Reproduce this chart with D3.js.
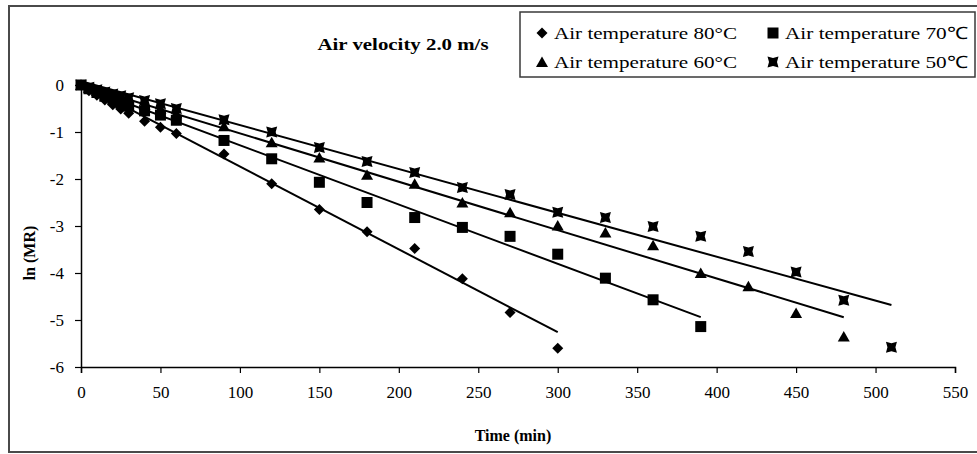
<!DOCTYPE html>
<html>
<head>
<meta charset="utf-8">
<script src="https://cdn.jsdelivr.net/npm/d3@7/dist/d3.min.js"></script>
<style>
  html, body { margin: 0; padding: 0; background: #fff; }
  svg { display: block; }
  svg text { font-family: "Liberation Serif", "Times New Roman", serif !important; fill: #000; }
</style>
</head>
<body>
<svg id="chart" width="977" height="454"></svg>
<script>
// ---- data ----
const times = [0, 5, 10, 15, 20, 25, 30, 40, 50, 60, 90, 120, 150, 180, 210, 240, 270, 300, 330, 360, 390, 420, 450, 480, 510];
const seriesNames = ["Air temperature 80°C", "Air temperature 70℃", "Air temperature 60°C", "Air temperature 50℃"];
const values80 = [0, -0.12, -0.22, -0.32, -0.42, -0.51, -0.6, -0.77, -0.9, -1.03, -1.47, -2.1, -2.65, -3.12, -3.48, -4.12, -4.84, -5.6];
const values70 = [0, -0.08, -0.16, -0.24, -0.31, -0.38, -0.45, -0.55, -0.64, -0.75, -1.18, -1.57, -2.07, -2.5, -2.82, -3.03, -3.22, -3.6, -4.11, -4.57, -5.14];
const values60 = [0, -0.06, -0.12, -0.18, -0.24, -0.3, -0.35, -0.42, -0.5, -0.6, -0.88, -1.22, -1.54, -1.91, -2.1, -2.5, -2.71, -2.99, -3.14, -3.41, -4.0, -4.28, -4.85, -5.35];
const values50 = [0, -0.05, -0.1, -0.15, -0.19, -0.23, -0.27, -0.33, -0.4, -0.5, -0.74, -1.0, -1.33, -1.63, -1.86, -2.18, -2.33, -2.71, -2.82, -3.01, -3.22, -3.54, -3.98, -4.58, -5.58];
// fitted straight lines: value at t=0 and at end time
const fitEndTime = [300, 390, 480, 510];
const fitStartValue = [0.03, -0.02, 0, 0.08];
const fitEndValue = [-5.26, -4.94, -4.94, -4.68];
const xTicks = [0, 50, 100, 150, 200, 250, 300, 350, 400, 450, 500, 550];
const yTicks = [0, -1, -2, -3, -4, -5, -6];
const titleText = "Air velocity 2.0 m/s";
const xLabel = "Time (min)";
const yLabel = "ln (MR)";

const allValues = [values80, values70, values60, values50];
const serif = '"Liberation Serif", "Times New Roman", serif';

// ---- drawing ----
const svg = d3.select("#chart");
const x = d3.scaleLinear().domain([0, 550]).range([81, 955]);
const y = d3.scaleLinear().domain([-6, 0]).range([367, 85]);

// outer frame
svg.append("rect").attr("x", 9).attr("y", 6).attr("width", 975).attr("height", 446)
  .attr("fill", "none").attr("stroke", "#4a4a4a").attr("stroke-width", 2);

// axes
const xAxis = svg.append("g").attr("transform", `translate(0,${y(-6)})`)
  .call(d3.axisBottom(x).tickValues(xTicks).tickSize(6).tickSizeOuter(6).tickPadding(13).tickFormat(d3.format("d")));
const yAxis = svg.append("g").attr("transform", `translate(${x(0)},0)`)
  .call(d3.axisLeft(y).tickValues(yTicks).tickSize(6).tickSizeOuter(0).tickPadding(11).tickFormat(d => d === 0 ? "0" : "-" + Math.abs(d)));
[xAxis, yAxis].forEach(g => {
  g.attr("font-family", serif);
  g.selectAll("path.domain").attr("stroke", "#000").attr("stroke-width", 1.5);
  g.selectAll(".tick line").attr("stroke", "#000").attr("stroke-width", 1.2);
  g.selectAll(".tick text").style("font-family", serif).attr("font-size", 17).attr("fill", "#000");
});

// fit lines
const lineG = svg.append("g");
fitEndTime.forEach((te, i) => {
  lineG.append("line")
    .attr("x1", x(0)).attr("y1", y(fitStartValue[i]))
    .attr("x2", x(te)).attr("y2", y(fitEndValue[i]))
    .attr("stroke", "#000").attr("stroke-width", 2);
});

// marker shapes
function markerPath(kind) {
  if (kind === 0) return "M0,-5.5L5.5,0L0,5.5L-5.5,0Z"; // diamond
  if (kind === 1) return "M-5.5,-5.5H5.5V5.5H-5.5Z"; // square
  if (kind === 2) return "M0,-5.5L6,5H-6Z"; // triangle
  // square with pinched sides
  return "M-5.5,-5.5L0,-4L5.5,-5.5L4,0L5.5,5.5L0,4L-5.5,5.5L-4,0Z";
}

const ptG = svg.append("g");
allValues.forEach((vals, i) => {
  ptG.selectAll(null).data(vals).enter().append("path")
    .attr("d", markerPath(i))
    .attr("transform", (d, j) => `translate(${x(times[j])},${y(d)})`)
    .attr("fill", "#000");
});

// title
svg.append("text").attr("x", 403).attr("y", 50).attr("text-anchor", "middle")
  .attr("font-size", 16).attr("font-weight", "bold")
  .attr("textLength", 171).attr("lengthAdjust", "spacingAndGlyphs").text(titleText);

// axis labels
svg.append("text").attr("x", 513).attr("y", 441).attr("text-anchor", "middle")
  .attr("font-size", 16).attr("font-weight", "bold").text(xLabel);
svg.append("text").attr("transform", "translate(35,253) rotate(-90)").attr("text-anchor", "middle")
  .attr("font-size", 16).attr("font-weight", "bold").text(yLabel);

// legend
const lg = svg.append("g");
lg.append("rect").attr("x", 520).attr("y", 12).attr("width", 455).attr("height", 65)
  .attr("fill", "#fff").attr("stroke", "#3a3a3a").attr("stroke-width", 1.5);
const legendPos = [[542, 33], [773, 33], [542, 62], [773, 62]];
seriesNames.forEach((name, i) => {
  const [lx, ly] = legendPos[i];
  lg.append("path").attr("d", markerPath(i)).attr("transform", `translate(${lx},${ly})`).attr("fill", "#000");
  lg.append("text").attr("x", lx + 12).attr("y", ly + 6).attr("font-size", 17)
    .attr("textLength", 183).attr("lengthAdjust", "spacingAndGlyphs").text(name);
});
</script>
</body>
</html>
